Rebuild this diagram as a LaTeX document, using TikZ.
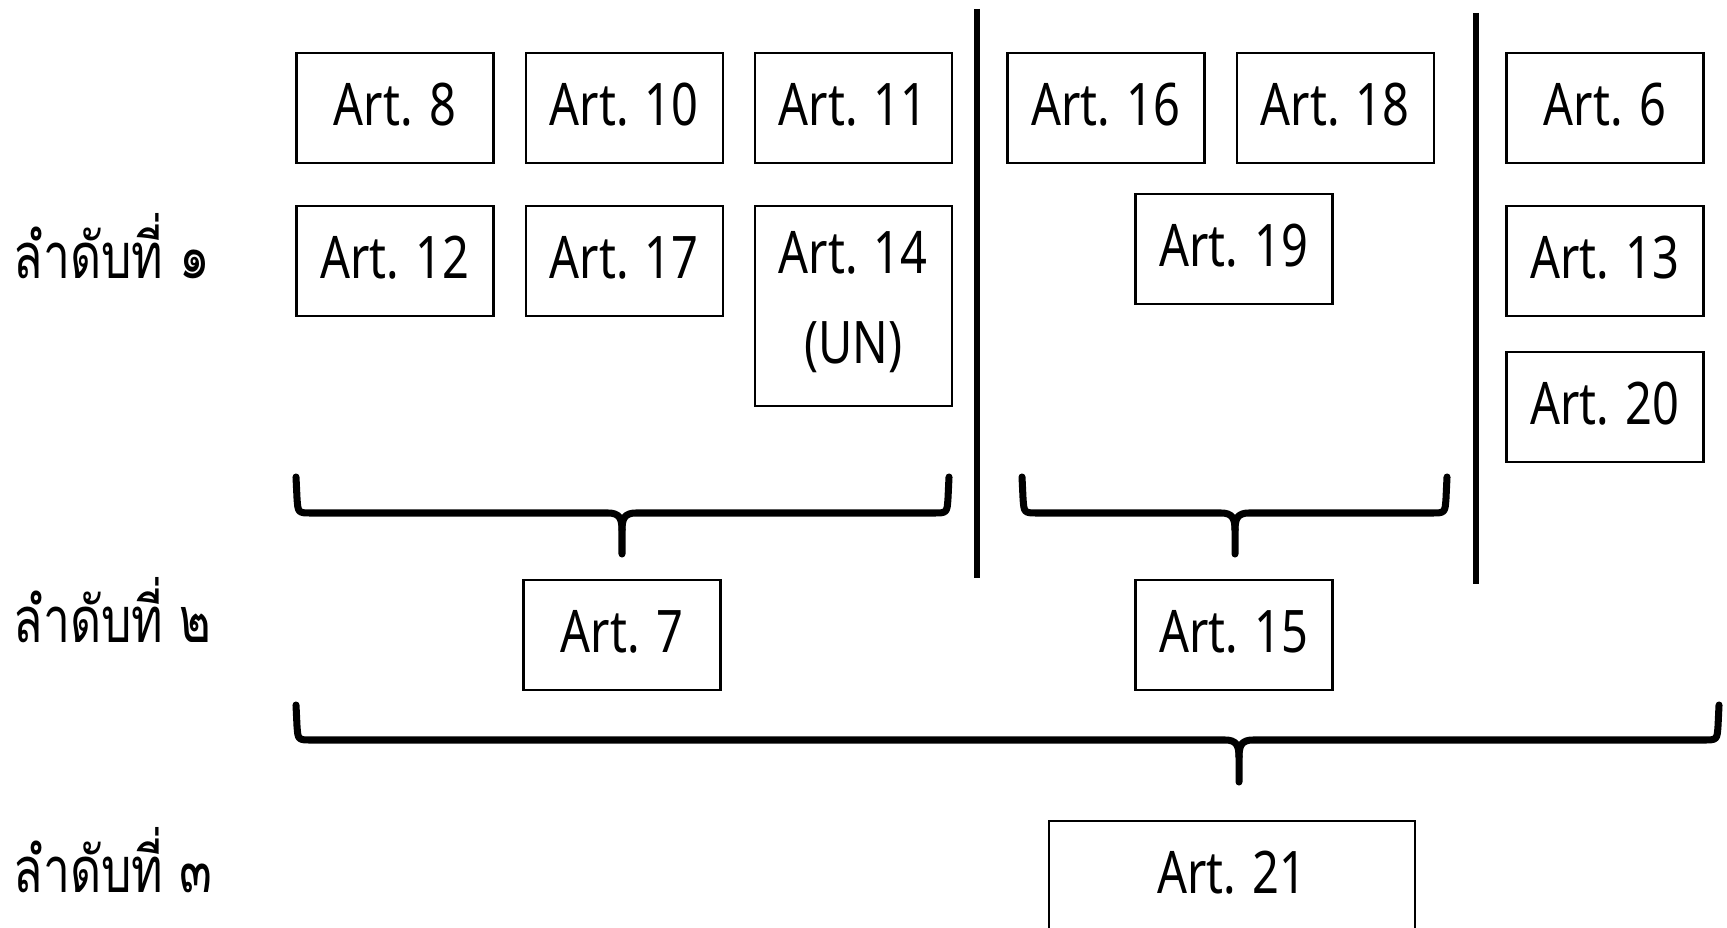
\documentclass[tikz,border=0pt]{standalone}
\usepackage{fontspec}
\setmainfont[FakeStretch=0.8]{Noto Sans}
\newfontfamily\thaifont[Script=Thai, FakeStretch=0.76]{Loma}
\usepackage{tikz}
\usetikzlibrary{positioning,calc}

\tikzset{
  artbox/.style={rectangle, draw=black, line width=0.6pt, minimum width=1.97cm, minimum height=1.1cm, inner sep=0pt, text depth=0.07cm, align=center, font=\fontsize{16.7}{25.6}\selectfont},
  rank/.style={anchor=west, inner sep=0pt, font=\thaifont\fontsize{18}{22}\selectfont},
  brace/.style={line width=2pt, line cap=round, line join=round},
  divider/.style={line width=1.7pt}
}

\begin{document}
\begin{tikzpicture}
    \useasboundingbox (0,0) rectangle (17.27,-9.27);

    % rank labels
    \node (rank1) [rank] at (0.13,-2.46) {ลำดับที่ ๑};
    \node (rank2) [rank] at (0.13,-6.10) {ลำดับที่ ๒};
    \node (rank3) [rank] at (0.13,-8.60) {ลำดับที่ ๓};

    % first group
    \node (art8) [artbox] at (3.95,-1.08) {Art. 8};
    \node (art10) [artbox, right =0.3cm of art8] {Art. 10};
    \node (art11) [artbox, right =0.3cm of art10] {Art. 11};
    \node (art12) [artbox, below =0.41cm of art8] {Art. 12};
    \node (art17) [artbox, below =0.41cm of art10] {Art. 17};
    \node (art14) [artbox, below =0.41cm of art11, minimum height=2cm, text depth=0.17cm] {Art. 14\\(UN)};

    % second group
    \node (art16) [artbox] at (11.06,-1.08) {Art. 16};
    \node (art18) [artbox, right =0.3cm of art16] {Art. 18};
    \node (art19) [artbox] at (12.34,-2.49) {Art. 19};

    % third group
    \node (art6) [artbox] at (16.05,-1.08) {Art. 6};
    \node (art13) [artbox, below =0.41cm of art6] {Art. 13};
    \node (art20) [artbox, below =0.34cm of art13] {Art. 20};

    % lower ranks
    \node (art7) [artbox] at (6.22,-6.35) {Art. 7};
    \node (art15) [artbox] at (12.34,-6.35) {Art. 15};
    \node (art21) [artbox, minimum width=3.66cm] at (12.32,-8.76) {Art. 21};

    % dividers
    \draw [divider] (9.77,-0.09) -- (9.77,-5.78);
    \draw [divider] (14.76,-0.13) -- (14.76,-5.84);

    % braces
    \draw [brace] (2.96,-4.77) -- (2.97,-4.98) .. controls (2.98,-5.13) .. (3.12,-5.13) -- (6.08,-5.13) .. controls (6.19,-5.13) and (6.22,-5.18) .. (6.22,-5.30) -- (6.22,-5.54);
    \draw [brace] (9.49,-4.77) -- (9.48,-4.98) .. controls (9.47,-5.13) .. (9.33,-5.13) -- (6.36,-5.13) .. controls (6.25,-5.13) and (6.22,-5.18) .. (6.22,-5.30);

    \draw [brace] (10.22,-4.77) -- (10.23,-4.98) .. controls (10.24,-5.13) .. (10.38,-5.13) -- (12.21,-5.13) .. controls (12.32,-5.13) and (12.35,-5.18) .. (12.35,-5.30) -- (12.35,-5.54);
    \draw [brace] (14.47,-4.77) -- (14.46,-4.98) .. controls (14.45,-5.13) .. (14.31,-5.13) -- (12.49,-5.13) .. controls (12.38,-5.13) and (12.35,-5.18) .. (12.35,-5.30);

    \draw [brace] (2.96,-7.05) -- (2.97,-7.26) .. controls (2.98,-7.40) .. (3.12,-7.40) -- (12.25,-7.40) .. controls (12.36,-7.40) and (12.39,-7.45) .. (12.39,-7.57) -- (12.39,-7.82);
    \draw [brace] (17.19,-7.05) -- (17.18,-7.26) .. controls (17.17,-7.40) .. (17.03,-7.40) -- (12.53,-7.40) .. controls (12.42,-7.40) and (12.39,-7.45) .. (12.39,-7.57);
\end{tikzpicture}
\end{document}
